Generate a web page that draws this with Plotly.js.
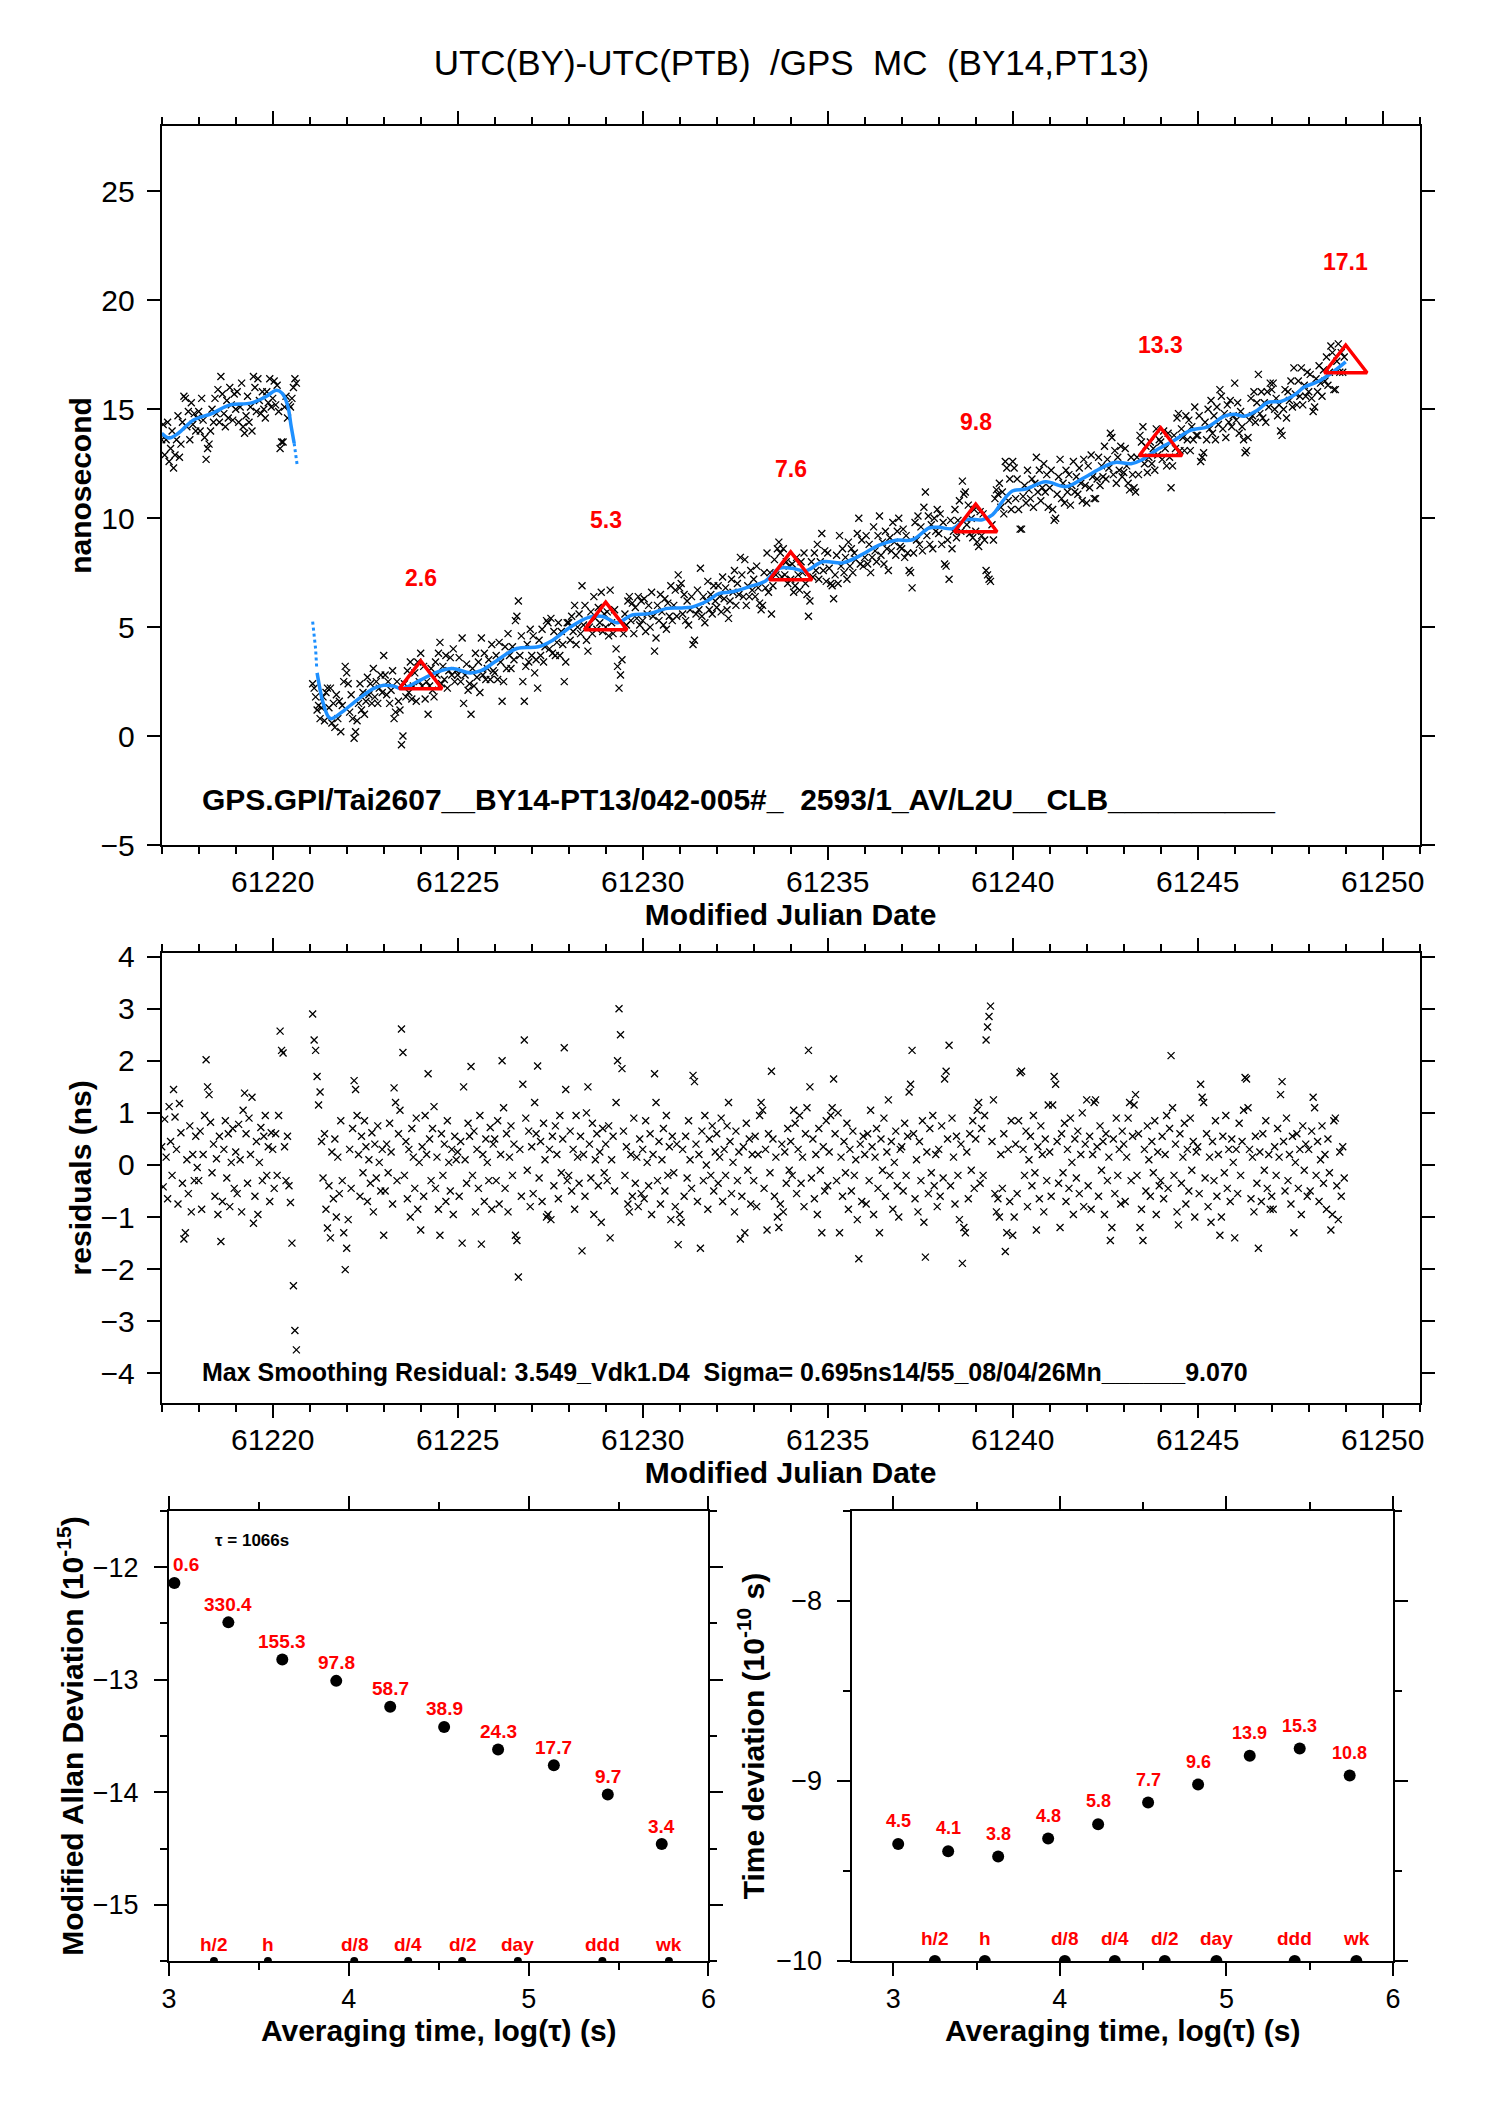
<!DOCTYPE html>
<html>
<head>
<meta charset="utf-8">
<script src="https://cdn.plot.ly/plotly-3.0.1.min.js"></script>
<style>
html,body{margin:0;padding:0;background:#fff;}
#chart{width:1488px;height:2105px;}
</style>
</head>
<body>
<div id="chart"></div>
<script>
// ---------------- DATA ----------------
// Epoch grid of the GPS MC comparison (MJD), one value every 0.04 day starting 61217.00
const epochStart = 61217.0;
const epochStep = 0.04;

// UTC(BY)-UTC(PTB) raw values (ns), one row per MJD day (61217 ... 61248); null = no data
const topNs = [
13.6,14.3,12.9,13.6,14.4,12.6,13.2,14.0,12.3,12.9,13.6,14.7,12.8,13.4,14.4,15.6,15.5,14.2,14.9,13.6,15.3,14.3,14.8,14.0,14.6,
14.9,14.0,15.5,14.5,13.7,12.7,13.2,13.4,14.0,15.0,14.4,15.5,14.8,15.9,14.4,16.5,15.7,14.8,14.2,15.4,14.6,16.0,15.2,14.5,15.7,
15.0,15.8,14.4,15.1,16.2,14.2,13.9,14.7,15.6,14.4,15.1,14.0,16.5,16.0,14.9,16.4,15.4,14.8,15.8,15.0,14.6,15.8,15.3,16.4,15.1,
15.5,16.3,15.2,16.1,14.9,13.2,13.5,13.5,15.1,15.6,14.6,15.2,15.1,15.5,16.0,16.4,16.2,null,null,null,null,null,null,null,null,
null,null,2.4,2.2,1.8,1.2,1.4,0.8,1.3,1.8,0.7,2.0,2.2,1.3,2.2,0.6,1.5,0.4,1.9,0.8,1.6,0.2,1.4,2.5,3.2,
2.9,2.4,1.1,1.9,0.8,-0.1,0.2,0.7,1.5,2.4,1.2,2.0,1.0,1.6,2.7,1.9,2.4,1.5,3.1,1.8,2.5,1.5,2.2,2.8,2.0,
3.7,2.8,1.9,2.5,1.5,2.1,3.0,0.8,1.1,2.5,1.6,1.2,-0.4,0.0,2.4,1.8,3.0,2.0,3.4,1.7,2.3,2.9,1.6,3.4,2.5,
3.8,2.3,3.2,1.7,2.5,1.0,2.3,3.1,2.1,1.8,3.4,2.8,3.8,4.3,2.4,3.2,2.6,3.7,2.2,3.0,3.6,2.8,4.0,2.5,3.0,
2.8,3.6,2.5,4.5,1.5,2.8,3.3,2.1,2.4,1.0,3.1,2.3,3.8,2.7,3.4,2.0,4.5,2.8,3.8,2.6,3.1,3.5,2.6,4.2,3.0,
2.9,3.7,2.6,4.3,3.4,1.6,2.5,4.1,3.1,4.7,3.7,3.1,4.1,3.5,5.3,5.5,6.2,3.7,4.6,2.5,1.6,3.2,4.2,3.4,4.9,
3.7,4.6,2.9,3.5,2.2,4.4,3.7,4.9,3.4,4.1,5.3,5.2,4.0,5.4,3.8,4.8,3.7,4.3,5.2,3.7,4.8,4.2,2.5,3.4,5.2,
5.2,4.4,5.5,4.8,6.0,4.2,5.0,5.6,4.7,6.9,5.1,6.0,4.4,3.9,5.0,5.7,4.7,6.4,5.4,4.9,5.9,5.2,6.6,4.8,5.6,
5.0,5.7,4.6,6.7,5.2,4.7,5.8,4.0,3.2,2.2,2.8,3.5,4.7,5.6,5.1,6.2,6.4,5.3,6.1,4.7,5.9,5.4,6.4,5.1,6.2,
5.3,6.3,4.8,5.6,6.0,5.0,6.6,5.5,3.9,4.5,6.0,5.3,6.5,5.7,5.1,6.3,4.9,6.1,5.5,6.9,5.3,6.0,6.7,5.5,7.4,
6.8,7.0,5.6,6.5,5.3,6.2,5.1,5.8,6.4,4.2,4.4,5.6,6.7,5.8,7.7,5.5,6.4,5.2,6.2,7.1,5.8,6.5,5.6,6.9,6.2,
5.9,6.9,6.4,5.7,7.3,6.3,6.8,5.8,5.4,6.2,7.2,6.6,7.6,6.0,7.0,6.5,8.2,7.4,6.4,8.1,6.0,6.9,6.4,7.6,6.7,
7.2,6.4,7.8,6.8,6.1,5.8,6.0,7.5,6.8,8.4,6.6,7.5,5.6,6.9,8.1,7.4,8.6,8.9,8.4,7.3,8.6,7.4,8.0,7.0,7.8,
7.2,7.9,6.6,6.9,8.2,7.4,6.7,8.0,7.5,8.4,7.0,6.5,5.5,6.2,8.0,7.3,8.4,7.6,8.8,7.2,8.0,9.3,7.6,8.5,7.1,
8.4,7.7,7.0,6.9,6.3,7.4,8.3,7.0,9.2,7.8,8.6,7.5,8.2,7.2,8.9,7.8,8.6,7.5,8.4,8.1,9.3,10.0,7.9,9.0,7.8,
8.2,9.2,7.9,8.8,7.5,8.2,9.6,8.5,8.0,9.2,10.1,8.3,8.9,7.9,9.4,8.6,7.6,9.1,8.5,9.8,8.9,8.3,9.4,10.0,8.7,
8.6,9.5,8.2,9.2,8.4,7.6,7.5,6.8,8.4,9.8,9.0,10.1,8.8,9.6,8.5,10.5,11.2,9.2,10.1,8.8,9.7,8.6,10.0,9.4,10.4,
9.3,10.2,8.8,9.8,7.9,7.8,9.0,7.2,9.9,8.6,9.4,10.4,9.1,9.9,10.8,9.4,11.7,11.1,11.2,9.7,10.6,9.3,10.0,9.1,10.4,
9.4,8.9,8.7,10.3,9.2,10.2,9.0,7.6,7.4,7.2,7.1,9.7,9.0,10.9,11.3,11.1,11.6,10.5,11.2,10.2,12.6,12.3,10.8,11.8,10.4,
12.6,12.3,10.9,11.8,10.4,9.5,9.5,11.0,11.5,10.7,12.2,11.3,10.9,11.8,10.5,11.6,12.8,11.2,12.2,10.8,11.4,12.5,11.2,12.0,10.5,
11.4,12.2,10.4,9.9,10.0,11.1,11.9,12.7,10.9,11.6,10.7,12.2,11.2,12.0,10.6,11.5,12.6,11.2,11.9,11.1,12.3,11.6,10.8,12.7,11.5,
10.7,12.4,11.4,12.9,11.9,10.9,10.9,11.8,12.8,11.5,12.4,11.9,13.3,11.8,12.7,12.3,13.9,13.7,12.0,13.1,11.6,12.8,12.2,13.3,11.9,
12.1,13.2,12.4,11.6,11.3,12.8,12.0,11.4,11.2,12.8,12.0,13.8,13.5,14.2,12.5,13.3,12.1,12.8,13.5,12.5,13.2,12.2,14.1,12.9,13.6,
13.5,12.7,14.0,13.2,12.4,13.9,12.8,11.4,12.4,13.8,13.2,14.6,14.8,13.1,14.1,13.7,13.1,14.7,13.6,14.5,13.1,14.2,13.6,15.1,13.8,
13.8,14.7,12.6,12.8,13.0,14.4,13.6,15.0,14.1,15.4,13.9,14.7,13.6,15.1,14.3,15.9,15.6,14.1,14.8,13.7,15.2,14.4,15.4,14.2,14.7,
16.2,14.5,15.3,13.9,14.9,14.2,13.6,13.0,13.1,13.7,14.5,15.5,14.7,15.8,14.4,15.3,16.6,14.8,15.8,14.6,15.3,14.4,15.8,15.1,16.2,
15.9,16.2,15.0,15.5,14.7,15.2,14.0,13.8,15.0,15.9,14.6,15.8,15.4,16.3,15.1,16.9,15.7,15.2,16.3,15.6,16.9,15.2,16.1,15.6,16.7,
15.8,16.6,15.5,14.9,15.1,16.4,15.8,17.0,16.2,15.6,16.8,16.3,17.4,16.1,16.7,17.9,17.6,15.9,15.9,17.2,18.0,16.7,17.6,16.7,17.4
];

// Smoothing residuals (ns), same epochs
const residNs = [
0.35,-0.42,0.88,0.15,-0.65,1.12,0.45,-0.2,1.45,0.92,0.3,-0.75,1.18,0.62,-0.35,-1.42,-1.3,0.1,-0.55,0.75,-0.9,0.2,-0.3,0.55,-0.05,
-0.3,0.65,-0.85,0.2,0.95,2.02,1.5,1.35,0.82,-0.15,0.4,-0.6,0.12,-0.95,0.55,-1.47,-0.7,0.3,0.85,-0.25,0.6,-0.8,0.05,0.7,-0.45,
0.25,-0.55,0.78,0.1,-0.9,1.05,1.38,0.6,-0.35,0.9,0.2,1.3,-1.12,-0.6,0.45,-0.95,0.05,0.72,-0.3,0.55,0.95,-0.2,0.35,-0.7,0.62,
0.3,-0.45,0.6,-0.2,0.95,2.57,2.2,2.15,0.35,-0.3,0.55,-0.4,-0.72,-1.5,-2.32,-3.18,-3.55,null,null,null,null,null,null,null,null,
null,null,2.9,2.4,2.2,1.7,1.15,1.4,0.45,-0.25,0.6,-0.85,-1.21,-0.4,-1.4,0.25,-0.65,0.5,-1.0,0.15,-0.55,0.85,-0.3,-1.3,-2.01,
-1.6,-1.05,0.3,-0.45,0.7,1.62,1.45,0.95,0.2,-0.6,0.55,-0.15,0.85,0.35,-0.7,0.1,-0.35,0.62,-0.9,0.4,-0.25,0.75,0.05,-0.5,0.3,
-1.35,-0.5,0.4,-0.15,0.8,0.25,-0.75,1.48,1.2,-0.3,0.6,1.05,2.61,2.16,-0.2,0.45,-0.65,0.3,-1.0,0.7,0.15,-0.45,0.9,-0.85,0.05,
-1.25,0.35,-0.6,0.95,0.2,1.75,0.5,-0.3,0.7,1.12,-0.45,0.15,-0.85,-1.35,0.6,-0.2,0.4,-0.7,0.85,0.05,-0.5,0.3,-0.95,0.55,0.1,
0.25,-0.6,0.45,-1.5,1.5,0.1,-0.35,0.8,0.55,1.89,-0.2,0.65,-0.9,0.3,-0.45,0.95,-1.52,0.2,-0.7,0.5,0.05,-0.3,0.72,-0.85,0.4,
0.5,-0.3,0.85,-0.75,0.2,2.0,1.1,-0.45,0.6,-0.9,0.15,0.75,-0.2,0.4,-1.35,-1.45,-2.15,0.3,-0.6,1.55,2.4,0.9,-0.1,0.65,-0.8,
0.35,-0.55,1.2,0.6,1.9,-0.25,0.45,-0.7,0.8,0.1,-1.0,-0.95,0.3,-1.05,0.55,-0.4,0.75,0.2,-0.65,0.95,-0.15,0.5,2.25,1.45,-0.3,
-0.2,0.65,-0.5,0.3,-0.85,0.95,0.15,-0.35,0.55,-1.65,0.2,-0.6,1.0,1.5,0.4,-0.25,0.8,-0.95,0.1,0.6,-0.4,0.25,-1.1,0.7,-0.15,
0.4,-0.3,0.75,-1.4,0.1,0.55,-0.5,1.2,2.0,3.0,2.5,1.85,0.65,-0.2,0.35,-0.75,-0.9,0.2,-0.6,0.9,-0.35,0.15,-0.8,0.5,-0.55,
0.3,-0.65,0.85,0.05,-0.4,0.6,-0.95,0.2,1.75,1.2,-0.3,0.45,-0.75,0.1,0.7,-0.5,0.95,-0.2,0.35,-1.05,0.55,-0.15,-0.8,0.4,-1.53,
-0.95,-1.1,0.3,-0.6,0.55,-0.25,0.85,0.1,-0.45,1.72,1.6,0.4,-0.7,0.2,-1.6,0.65,-0.3,0.95,0.0,-0.85,0.5,-0.2,0.75,-0.5,0.25,
0.6,-0.35,0.15,0.9,-0.7,0.3,-0.2,0.75,1.2,0.45,-0.55,0.05,-0.9,0.65,-0.3,0.25,-1.42,-0.6,0.35,-1.3,0.8,-0.1,0.5,-0.75,0.2,
-0.3,0.55,-0.8,0.2,0.95,1.2,1.05,-0.45,0.3,-1.25,0.6,-0.15,1.8,0.5,-0.6,0.15,-1.0,-1.2,-0.75,0.4,-0.9,0.25,-0.35,0.7,-0.1,
0.45,-0.2,1.05,0.8,-0.55,0.3,0.95,-0.35,0.15,-0.8,0.6,1.1,2.2,1.5,-0.25,0.5,-0.65,0.2,-0.95,0.7,-0.1,-1.3,0.35,-0.5,0.85,
-0.4,0.25,0.95,1.1,1.65,0.6,-0.3,1.0,-1.3,0.15,-0.6,0.45,-0.15,0.8,-0.85,0.3,-0.5,0.65,-0.2,0.1,-1.05,-1.8,0.4,-0.7,0.55,
0.2,-0.75,0.6,-0.3,1.05,0.35,-0.95,0.15,0.7,-0.45,-1.3,0.5,-0.1,0.9,-0.6,0.25,1.25,-0.2,0.45,-0.85,0.05,0.65,-0.4,-1.0,0.3,
0.35,-0.5,0.8,-0.2,0.55,1.4,1.55,2.2,0.6,-0.65,0.1,-0.9,0.45,-0.3,0.85,-1.1,-1.77,0.25,-0.55,0.7,-0.15,0.95,-0.4,0.2,-0.8,
0.3,-0.6,0.75,-0.25,1.65,1.8,0.5,2.3,-0.4,0.9,0.15,-0.75,0.55,-0.2,-1.05,0.4,-1.89,-1.2,-1.3,0.25,-0.65,0.6,-0.1,0.85,-0.45,
0.5,1.05,1.2,-0.35,0.7,-0.2,0.95,2.4,2.65,2.85,3.05,0.45,1.25,-0.55,-0.9,-0.65,-1.0,0.2,-0.45,0.6,-1.66,-1.3,0.3,-0.7,0.85,
-1.35,-1.0,0.4,-0.55,0.85,1.77,1.8,0.3,-0.2,0.65,-0.8,0.1,0.55,-0.4,0.95,-0.15,-1.25,0.35,-0.65,0.75,0.2,-0.9,0.5,-0.3,1.15,
0.25,-0.6,1.15,1.7,1.55,0.45,-0.35,-1.2,0.6,-0.15,0.8,-0.7,0.3,-0.45,0.9,0.05,-0.95,0.5,-0.25,0.65,-0.55,0.2,1.0,-0.8,0.4,
1.25,-0.4,0.55,-0.85,0.2,1.2,1.25,0.35,-0.6,0.75,-0.1,0.45,-0.95,0.6,-0.3,0.15,-1.45,-1.2,0.5,-0.55,0.9,-0.2,0.3,-0.75,0.65,
0.4,-0.7,0.15,0.9,1.2,-0.3,0.55,1.15,1.35,-0.2,0.6,-1.2,-0.85,-1.45,0.3,-0.5,0.75,0.1,-0.6,0.45,-0.15,0.85,-0.95,0.25,-0.4,
-0.3,0.55,-0.65,0.2,0.95,-0.45,0.7,2.1,1.1,-0.2,0.4,-0.9,-1.15,0.6,-0.35,0.15,0.8,-0.75,0.3,-0.5,0.9,-0.1,0.45,-1.0,0.25,
0.35,-0.55,1.55,1.3,1.2,-0.25,0.6,-0.8,0.15,-1.1,0.45,-0.3,0.85,-0.6,0.2,-1.35,-1.0,0.55,-0.15,0.95,-0.45,0.3,-0.7,0.5,0.05,
-1.4,0.3,-0.55,0.8,-0.2,0.45,1.05,1.68,1.65,1.1,0.3,-0.65,0.15,-0.9,0.55,-0.35,-1.6,0.25,-0.7,0.6,-0.1,0.85,-0.45,0.2,-0.85,
-0.6,-0.85,0.35,-0.2,0.7,0.15,1.35,1.6,0.45,-0.5,0.9,-0.3,0.2,-0.75,0.55,-1.3,0.05,0.6,-0.45,0.3,-0.95,0.75,-0.1,0.4,-0.6,
0.3,-0.5,0.65,1.3,1.1,-0.2,0.45,-0.7,0.1,0.75,-0.35,0.2,-0.85,0.5,-0.15,-1.25,-0.95,0.85,0.9,-0.4,-1.05,0.25,-0.6,0.35,-0.25
];

// Smoothed curve (blue)
const smoothSeg1Mjd = [61217.0,61217.2,61217.45,61217.85,61218.35,61218.85,61219.4,61219.8,61220.1,61220.25,61220.4,61220.5,61220.58];
const smoothSeg1Ns  = [13.9,13.68,13.9,14.5,14.8,15.2,15.28,15.56,15.87,15.74,15.2,14.2,13.44];
const smoothEndAMjd = [61220.58,61220.62,61220.66];
const smoothEndANs  = [13.44,13.0,12.45];
const smoothStartBMjd = [61221.08,61221.12,61221.16,61221.19];
const smoothStartBNs  = [5.25,4.6,4.0,3.1];
const smoothSeg2Mjd = [61221.2,61221.35,61221.5,61221.58,61221.75,61221.94,61222.33,61222.72,61223.0,61223.25,61223.49,61223.98,61224.46,61224.85,61225.33,61225.63,61226.01,61226.6,61227.18,61227.57,61228.05,61228.54,61228.92,61229.31,61229.7,61230.18,61230.67,61231.06,61231.35,61231.74,61232.07,61232.42,61232.87,61233.32,61233.69,61234.04,61234.4,61234.86,61235.4,61235.85,61236.39,61236.84,61237.29,61237.74,61238.01,61238.37,61238.73,61239.18,61239.45,61239.72,61239.99,61240.35,61240.89,61241.44,61241.89,61242.34,61242.76,61243.2,61243.47,61243.92,61244.37,61244.82,61245.27,61245.72,61245.99,61246.26,61246.62,61246.89,61247.25,61247.61,61247.88,61248.24,61248.6,61249.0];
const smoothSeg2Ns  = [2.9,1.6,0.9,0.8,0.95,1.19,1.72,2.18,2.33,2.3,2.18,2.56,2.95,3.1,2.9,3.0,3.41,4.02,4.1,4.4,5.01,5.45,5.49,5.2,5.55,5.62,5.86,5.88,5.93,6.2,6.55,6.62,6.85,7.12,7.7,7.7,7.58,8.0,7.95,8.26,8.76,8.99,9.01,9.55,9.58,9.52,9.93,9.93,10.15,10.76,11.25,11.34,11.67,11.45,11.82,12.25,12.56,12.5,12.66,13.16,13.58,14.04,14.19,14.68,14.77,14.68,14.96,15.31,15.36,15.65,16.02,16.26,16.64,17.17];

// 5-day markers
const triMjd = [61224,61229,61234,61239,61244,61249];
const triNs  = [2.6,5.3,7.6,9.8,13.3,17.1];
const triLabels = ['2.6','5.3','7.6','9.8','13.3','17.1'];

// Stability analysis
const tauLog = [3.03,3.33,3.63,3.93,4.23,4.53,4.83,5.14,5.44,5.74];
const modAdevLog = [-12.14,-12.49,-12.82,-13.01,-13.24,-13.42,-13.62,-13.76,-14.02,-14.46];
const modAdevLabels = ['0.6','330.4','155.3','97.8','58.7','38.9','24.3','17.7','9.7','3.4'];
const tdevLog = [-9.35,-9.39,-9.42,-9.32,-9.24,-9.12,-9.02,-8.86,-8.82,-8.97];
const tdevLabels = ['4.5','4.1','3.8','4.8','5.8','7.7','9.6','13.9','15.3','10.8'];
const refTauLog = [3.25,3.55,4.03,4.33,4.63,4.94,5.41,5.78];
const refTauNames = ['h/2','h','d/8','d/4','d/2','day','ddd','wk'];
const adevFloor = -15.5;
const tdevFloor = -10;

// ---------------- BUILD ----------------
const epochMjd = topNs.map((_, i) => +(epochStart + i * epochStep).toFixed(2));
const FONT = '"Liberation Sans", Arial, Helvetica, sans-serif';
const BLUE = '#1E90FF';

const xMarker = {symbol: 'x-thin-open', size: 7, color: 'black', line: {width: 1.3, color: 'black'}};

const traces = [
  {x: epochMjd, y: topNs, xaxis: 'x', yaxis: 'y', mode: 'markers', type: 'scatter', marker: xMarker, hoverinfo: 'skip'},
  {x: smoothSeg1Mjd, y: smoothSeg1Ns, xaxis: 'x', yaxis: 'y', mode: 'lines', line: {color: BLUE, width: 3.5, shape: 'spline', smoothing: 1}},
  {x: smoothEndAMjd, y: smoothEndANs, xaxis: 'x', yaxis: 'y', mode: 'lines', line: {color: BLUE, width: 3, dash: 'dot'}},
  {x: smoothStartBMjd, y: smoothStartBNs, xaxis: 'x', yaxis: 'y', mode: 'lines', line: {color: BLUE, width: 3, dash: 'dot'}},
  {x: smoothSeg2Mjd, y: smoothSeg2Ns, xaxis: 'x', yaxis: 'y', mode: 'lines', line: {color: BLUE, width: 3.5, shape: 'spline', smoothing: 1}},
  {x: triMjd, y: triNs, xaxis: 'x', yaxis: 'y', mode: 'markers', marker: {symbol: 'triangle-up-open', size: 37, color: '#FF0000', line: {width: 3.5, color: '#FF0000'}}},
  {x: epochMjd, y: residNs, xaxis: 'x2', yaxis: 'y2', mode: 'markers', type: 'scatter', marker: xMarker, hoverinfo: 'skip'},
  {x: tauLog, y: modAdevLog, xaxis: 'x3', yaxis: 'y3', mode: 'markers', marker: {symbol: 'circle', size: 12, color: 'black'}},
  {x: refTauLog, y: refTauLog.map(() => adevFloor), xaxis: 'x3', yaxis: 'y3', mode: 'markers', marker: {symbol: 'circle', size: 8, color: 'black'}, cliponaxis: true},
  {x: tauLog, y: tdevLog, xaxis: 'x4', yaxis: 'y4', mode: 'markers', marker: {symbol: 'circle', size: 12, color: 'black'}},
  {x: refTauLog, y: refTauLog.map(() => tdevFloor), xaxis: 'x4', yaxis: 'y4', mode: 'markers', marker: {symbol: 'circle', size: 12, color: 'black'}, cliponaxis: true}
];

function frameAxis(extra) {
  return Object.assign({
    showline: true, linecolor: 'black', linewidth: 2, mirror: 'ticks',
    ticks: 'outside', ticklen: 13, tickwidth: 2, tickcolor: 'black',
    showgrid: false, zeroline: false, fixedrange: true,
    tickfont: {size: 30, color: 'black', family: FONT},
    exponentformat: 'none'
  }, extra);
}
function minorTicks(dt, t0) {
  return {dtick: dt, tick0: t0, ticks: 'outside', ticklen: 7, tickwidth: 2, tickcolor: 'black', showgrid: false};
}
const titleFont = {size: 30, color: 'black', family: FONT};

const annotations = [];
triMjd.forEach((m, i) => annotations.push({
  x: m, y: triNs[i], xref: 'x', yref: 'y', text: '<b>' + triLabels[i] + '</b>', showarrow: false,
  yshift: 101, font: {size: 23, color: '#FF0000', family: FONT}
}));
annotations.push({
  x: 61218.03, y: -2.93, xref: 'x', yref: 'y', xanchor: 'left', yanchor: 'middle', showarrow: false,
  text: '<b>GPS.GPI/Tai2607__BY14-PT13/042-005#_\u00A0\u00A02593/1_AV/L2U__CLB__________</b>',
  font: {size: 30, color: 'black', family: FONT}
});
annotations.push({
  x: 61218.03, y: -3.97, xref: 'x2', yref: 'y2', xanchor: 'left', yanchor: 'middle', showarrow: false,
  text: '<b>Max Smoothing Residual: 3.549_Vdk1.D4\u00A0\u00A0Sigma= 0.695ns14/55_08/04/26Mn______9.070</b>',
  font: {size: 25, color: 'black', family: FONT}
});
modAdevLog.forEach((v, i) => annotations.push(i === 0 ? {
  x: 3.0, y: v, xref: 'x3', yref: 'y3', xanchor: 'left', text: '<b>' + modAdevLabels[i] + '</b>', showarrow: false,
  yshift: 18, xshift: 2, font: {size: 19, color: '#FF0000', family: FONT}
} : {
  x: tauLog[i], y: v, xref: 'x3', yref: 'y3', text: '<b>' + modAdevLabels[i] + '</b>', showarrow: false,
  yshift: 18, font: {size: 19, color: '#FF0000', family: FONT}
}));
tdevLog.forEach((v, i) => annotations.push({
  x: tauLog[i], y: v, xref: 'x4', yref: 'y4', text: '<b>' + tdevLabels[i] + '</b>', showarrow: false,
  yshift: 23, font: {size: 18, color: '#FF0000', family: FONT}
}));
refTauLog.forEach((t, i) => {
  annotations.push({x: t, y: adevFloor, xref: 'x3', yref: 'y3', text: '<b>' + refTauNames[i] + '</b>', showarrow: false,
    yshift: 17, font: {size: 19, color: '#FF0000', family: FONT}});
  annotations.push({x: t, y: tdevFloor, xref: 'x4', yref: 'y4', text: '<b>' + refTauNames[i] + '</b>', showarrow: false,
    yshift: 23, font: {size: 19, color: '#FF0000', family: FONT}});
});
annotations.push({
  x: 3.246, y: -11.764, xref: 'x3', yref: 'y3', xanchor: 'left', showarrow: false,
  text: '<b>\u03C4 = 1066s</b>', font: {size: 17, color: 'black', family: FONT}
});

const layout = {
  width: 1488, height: 2105,
  margin: {l: 0, r: 0, t: 0, b: 0, pad: 0},
  paper_bgcolor: 'white', plot_bgcolor: 'white',
  showlegend: false,
  font: {family: FONT, color: 'black'},
  title: {
    text: 'UTC(BY)-UTC(PTB)\u00A0\u00A0/GPS\u00A0\u00A0MC\u00A0\u00A0(BY14,PT13)',
    font: {size: 35, color: 'black', family: FONT},
    x: 0.5319, xanchor: 'center', xref: 'paper', y: 0.9702, yanchor: 'middle'
  },
  xaxis: frameAxis({domain: [0.10867, 0.95410], anchor: 'y', range: [61217, 61251], tick0: 61220, dtick: 5,
    tickformat: 'd', minor: minorTicks(1, 61220), ticklabelstandoff: -4,
    title: {text: '<b>Modified Julian Date</b>', font: titleFont, standoff: 3}}),
  yaxis: frameAxis({domain: [0.59857, 0.94014], anchor: 'x', range: [-5, 28], tick0: 0, dtick: 5,
    ticklabelstandoff: 6,
    title: {text: '<b>nanosecond</b>', font: titleFont, standoff: 0}}),
  xaxis2: frameAxis({domain: [0.10867, 0.95410], anchor: 'y2', range: [61217, 61251], tick0: 61220, dtick: 5,
    tickformat: 'd', minor: minorTicks(1, 61220), ticklabelstandoff: -4,
    title: {text: '<b>Modified Julian Date</b>', font: titleFont, standoff: 3}}),
  yaxis2: frameAxis({domain: [0.33363, 0.54727], anchor: 'x2', range: [-4.565, 4.07], tick0: 0, dtick: 1,
    ticklabelstandoff: 6,
    title: {text: '<b>residuals (ns)</b>', font: titleFont, standoff: 0}}),
  xaxis3: frameAxis({domain: [0.11358, 0.47614], anchor: 'y3', range: [3, 6], tick0: 0, dtick: 1,
    minor: minorTicks(0.5, 0), tickfont: {size: 27, color: 'black', family: FONT},
    title: {text: '<b>Averaging time, log(\u03C4) (s)</b>', font: titleFont, standoff: 4}}),
  yaxis3: frameAxis({domain: [0.06841, 0.28219], anchor: 'x3', range: [-15.5, -11.5], tick0: 0, dtick: 1,
    minor: minorTicks(0.5, 0), tickfont: {size: 27, color: 'black', family: FONT}, ticklabelstandoff: 10,
    title: {text: '<b>Modified Allan Deviation (10<sup>-15</sup>)</b>', font: titleFont, standoff: 0}}),
  xaxis4: frameAxis({domain: [0.57285, 0.93616], anchor: 'y4', range: [2.755, 6], tick0: 0, dtick: 1,
    minor: minorTicks(0.5, 0), tickfont: {size: 27, color: 'black', family: FONT},
    title: {text: '<b>Averaging time, log(\u03C4) (s)</b>', font: titleFont, standoff: 4}}),
  yaxis4: frameAxis({domain: [0.06841, 0.28219], anchor: 'x4', range: [-10, -7.5], tick0: 0, dtick: 1,
    minor: minorTicks(0.5, 0), tickfont: {size: 27, color: 'black', family: FONT}, ticklabelstandoff: 10,
    title: {text: '<b>Time deviation (10<sup>-10</sup> s)</b>', font: titleFont, standoff: 3}}),
  annotations: annotations
};

Plotly.newPlot('chart', traces, layout, {displayModeBar: false, staticPlot: true});
</script>
</body>
</html>
